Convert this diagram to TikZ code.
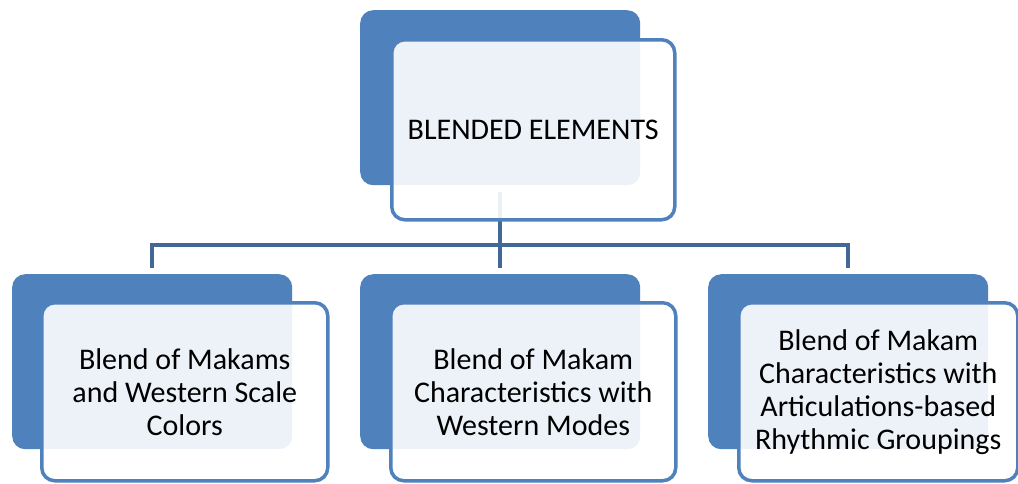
\documentclass[tikz,border=0pt]{standalone}
\usepackage{fontspec}
\setmainfont{Carlito}
\definecolor{accent}{RGB}{79,129,189}
\definecolor{linkblue}{RGB}{65,104,150}
\begin{document}
\begin{tikzpicture}[x=1pt,y=-1pt,
  backbox/.style={fill=accent,draw=none,rounded corners=13pt,
    minimum width=280pt,minimum height=175pt,inner sep=0pt,anchor=north west},
  frontbox/.style={draw=accent,line width=3.5pt,fill=white,fill opacity=0.9,
    text opacity=1,rounded corners=13pt,inner sep=0pt,anchor=north west,
    align=center,font=\fontsize{30}{33}\selectfont},
  conn/.style={draw=linkblue,line width=4pt}]
\useasboundingbox (0,0) rectangle (1018,483);
% back panels
\node[backbox] (tback) at (360,10) {};
\node[backbox] (lback) at (12,274) {};
\node[backbox] (mback) at (360,274) {};
\node[backbox] (rback) at (708,274) {};
% hierarchy connectors
\coordinate (bus) at (500,245);
\draw[conn] ([yshift=-7pt]tback.south) -- ([yshift=6pt]mback.north);
\draw[conn] ([yshift=6pt]lback.north) -- (lback.north |- bus)
  -- (rback.north |- bus) -- ([yshift=6pt]rback.north);
% front panels with labels
\node[frontbox,minimum width=283pt,minimum height=180pt] (top) at (390,38)
  {BLENDED ELEMENTS};
\node[frontbox,minimum width=286pt,minimum height=178pt] (left) at (40,301)
  {Blend of Makams\\and Western Scale\\Colors};
\node[frontbox,minimum width=285pt,minimum height=178pt] (mid) at (389,301)
  {Blend of Makam\\Characteristics with\\Western Modes};
\node[frontbox,minimum width=279pt,minimum height=178pt] (right) at (737,301)
  {Blend of Makam\\Characteristics with\\Articulations-based\\Rhythmic Groupings};
\end{tikzpicture}
\end{document}
